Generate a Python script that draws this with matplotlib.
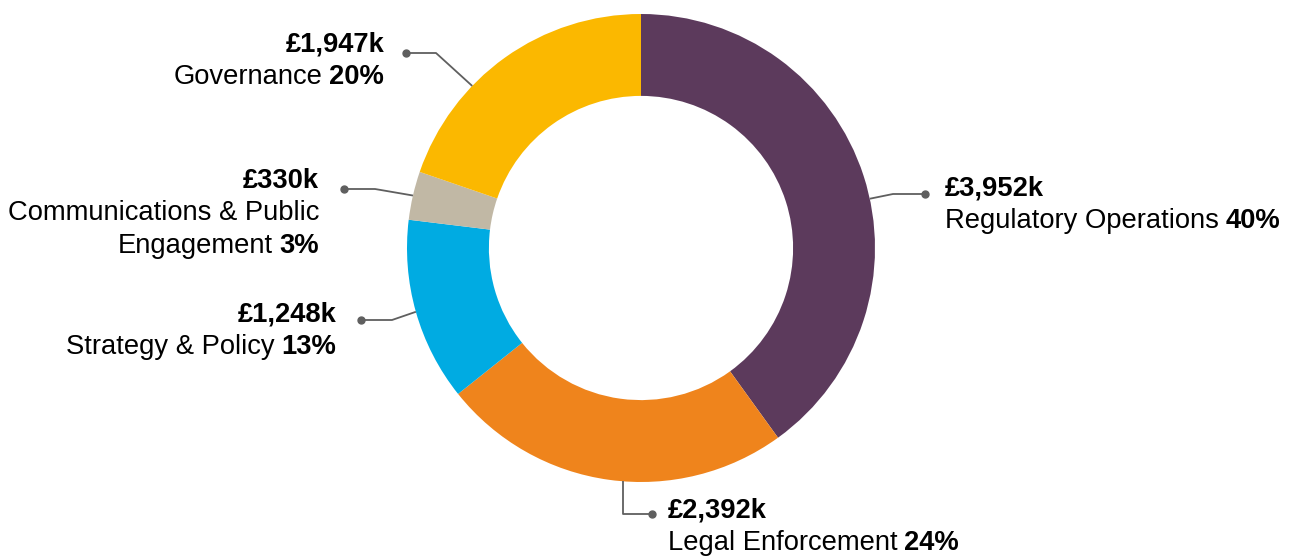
import numpy as np
import matplotlib.pyplot as plt

# budget by area, clockwise from 12 o'clock
areas = ['Regulatory Operations', 'Legal Enforcement', 'Strategy & Policy',
         'Communications & Public\nEngagement', 'Governance']
spend_k = [3952, 2392, 1248, 330, 1947]
pct = [40, 24, 13, 3, 20]
colors = ['#5C3A5C', '#EF841C', '#00ABE2', '#C1B8A5', '#FBB800']

plt.rcParams['font.family'] = ['Liberation Sans', 'DejaVu Sans']

W, H = 1294, 556
fig = plt.figure(figsize=(W / 100, H / 100), dpi=100)
ax = fig.add_axes([0, 0, 1, 1])

cx, cy, R = 641, 308, 234
wedges, _ = ax.pie(spend_k, colors=colors, startangle=90, counterclock=False,
                   center=(cx, cy), radius=R, frame=True,
                   wedgeprops=dict(width=R * 0.35, linewidth=0))
ax.set_xlim(0, W)
ax.set_ylim(0, H)
ax.set_aspect('equal')
ax.axis('off')

# where along each wedge (clockwise, 0..1) the leader line starts
anchor_frac = [0.54, 0.46, 0.5, 0.5, 0.35]
# (elbow, dot, text x, text top y, alignment) in pixels from top-left
layout = [
    ((893, 194), (925, 194), 945, 188, 'left'),
    (None, (652, 514), 668, 510, 'left'),
    ((392, 320), (361, 320), 336, 314, 'right'),
    ((375, 189), (344, 189), 319, 181, 'right'),
    ((436, 53), (406, 53), 384, 45, 'right'),
]

fs = 19.7
lead = '#5F5F5F'
for w, f, (elb, dot, tx, ty, ha), name, val, p in zip(
        wedges, anchor_frac, layout, areas, spend_k, pct):
    a = np.deg2rad(w.theta2 - (w.theta2 - w.theta1) * f)
    ax0, ay0 = cx + R * np.cos(a), cy + R * np.sin(a)
    if elb is None:
        # drop straight down, then across
        elb = (ax0, dot[1])
    xs = [ax0, elb[0], dot[0]]
    ys = [ay0, H - elb[1], H - dot[1]]
    ax.plot(xs, ys, color=lead, lw=1.3, solid_capstyle='butt')
    ax.plot(dot[0], H - dot[1], 'o', color=lead, ms=5)
    lines = name.split('\n')
    ax.text(tx, H - ty, f'£{val:,}k', ha=ha, va='center', fontsize=fs,
            fontweight='bold', color='black')
    for i, ln in enumerate(lines):
        yy = H - ty - 32.5 * (i + 1)
        if i == len(lines) - 1:
            if ha == 'left':
                t = ax.text(tx, yy, ln, ha='left', va='center', fontsize=fs)
                fig.canvas.draw()
                bb = t.get_window_extent().transformed(ax.transData.inverted())
                ax.text(bb.x1 + 6.5, yy, f'{p}%', ha='left', va='center',
                        fontsize=fs, fontweight='bold')
            else:
                t = ax.text(tx, yy, f'{p}%', ha='right', va='center',
                            fontsize=fs, fontweight='bold')
                fig.canvas.draw()
                bb = t.get_window_extent().transformed(ax.transData.inverted())
                ax.text(bb.x0 - 6.5, yy, ln, ha='right', va='center', fontsize=fs)
        else:
            ax.text(tx, yy, ln, ha=ha, va='center', fontsize=fs)

fig.savefig('out.png', dpi=100, facecolor='white')
